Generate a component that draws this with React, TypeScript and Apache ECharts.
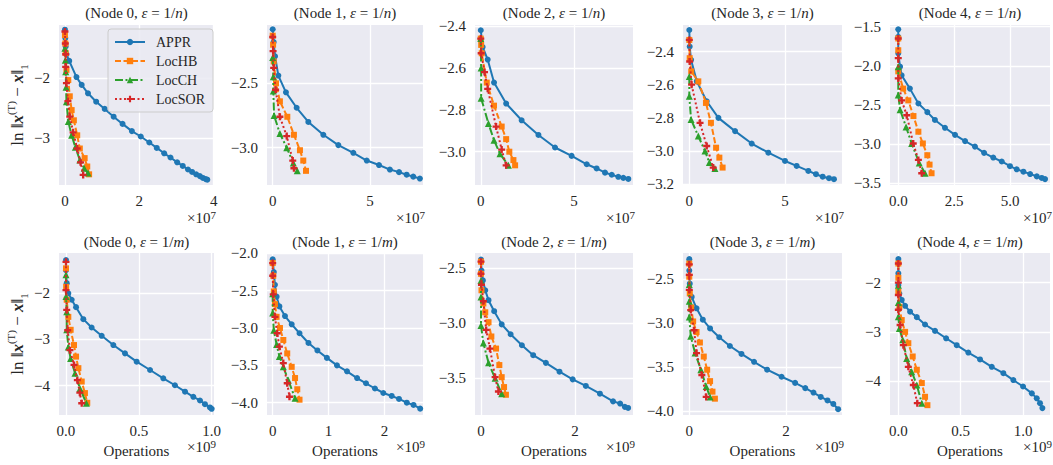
import React, { useEffect, useRef } from 'react';
import * as echarts from 'echarts';

const SERIES_NAMES = ['APPR', 'LocHB', 'LocCH', 'LocSOR'];
const NODE_IDS = [0, 1, 2, 3, 4, 0, 1, 2, 3, 4];
const EPS_LABELS = ['n', 'n', 'n', 'n', 'n', 'm', 'm', 'm', 'm', 'm'];
const X_EXPONENTS = [7, 7, 7, 7, 7, 9, 9, 9, 9, 9];

// x values in units of 10^exponent
const n0_appr = [[0,-1.19],[0.01,-1.33],[0.02,-1.47],[0.04,-1.6],[0.115,-1.71],[0.31,-1.98],[0.45,-2.11],[0.62,-2.25],[0.84,-2.39],[1.07,-2.51],[1.31,-2.64],[1.55,-2.76],[1.8,-2.88],[2.04,-2.97],[2.27,-3.07],[2.47,-3.16],[2.67,-3.25],[2.84,-3.32],[3.02,-3.4],[3.17,-3.46],[3.31,-3.52],[3.42,-3.56],[3.53,-3.6],[3.63,-3.63],[3.71,-3.66],[3.79,-3.68],[3.83,-3.69]];
const n0_hb = [[0,-1.28],[0.01,-1.42],[0.02,-1.58],[0.04,-1.86],[0.09,-2.03],[0.13,-2.3],[0.18,-2.53],[0.24,-2.7],[0.33,-2.95],[0.4,-3.17],[0.53,-3.33],[0.6,-3.47],[0.65,-3.6]];
const n0_ch = [[0,-1.5],[0.01,-1.7],[0.02,-1.89],[0.03,-2.15],[0.04,-2.39],[0.09,-2.72],[0.18,-2.95],[0.28,-3.15],[0.4,-3.36],[0.52,-3.5],[0.62,-3.58]];
const n0_sor = [[0,-1.22],[0.01,-1.42],[0.02,-1.6],[0.02,-1.81],[0.04,-2.08],[0.08,-2.38],[0.13,-2.64],[0.22,-2.9],[0.33,-3.17],[0.42,-3.4],[0.49,-3.61]];

const n1_appr = [[0,-2.08],[0.05,-2.18],[0.12,-2.29],[0.29,-2.44],[0.68,-2.57],[1.23,-2.69],[1.83,-2.8],[2.6,-2.9],[3.37,-2.98],[4.14,-3.04],[4.83,-3.1],[5.46,-3.135],[6.02,-3.17],[6.49,-3.19],[6.88,-3.21],[7.22,-3.225],[7.56,-3.24]];
const n1_hb = [[0,-2.13],[0.02,-2.2],[0.05,-2.33],[0.17,-2.5],[0.37,-2.64],[0.75,-2.76],[1.09,-2.9],[1.4,-3.02],[1.57,-3.1],[1.71,-3.18]];
const n1_ch = [[0,-2.3],[0.03,-2.45],[0.03,-2.56],[0.07,-2.75],[0.37,-2.89],[0.72,-3.0],[1.06,-3.12],[1.26,-3.18]];
const n1_sor = [[0,-2.14],[0.02,-2.25],[0.05,-2.38],[0.15,-2.55],[0.37,-2.76],[0.72,-2.91],[1.03,-3.1],[1.09,-3.16]];

const n2_appr = [[0,-2.42],[0.1,-2.5],[0.37,-2.56],[0.71,-2.67],[1.36,-2.77],[2.19,-2.85],[3.09,-2.92],[3.98,-2.98],[4.87,-3.02],[5.68,-3.06],[6.21,-3.08],[6.66,-3.1],[7.02,-3.11],[7.37,-3.12],[7.64,-3.125],[7.91,-3.13]];
const n2_hb = [[0,-2.46],[0.02,-2.49],[0.05,-2.53],[0.32,-2.67],[0.71,-2.78],[1.12,-2.88],[1.36,-2.94],[1.53,-3.0],[1.75,-3.04],[1.84,-3.065]];
const n2_ch = [[0,-2.46],[0.02,-2.6],[0.02,-2.745],[0.41,-2.865],[0.71,-2.945],[1.03,-3.01],[1.48,-3.065]];
const n2_sor = [[0,-2.46],[0.02,-2.53],[0.2,-2.62],[0.37,-2.7],[0.82,-2.88],[1.12,-2.99],[1.36,-3.065]];

const n3_appr = [[0,-2.27],[0.02,-2.37],[0.09,-2.45],[0.39,-2.58],[0.91,-2.7],[1.52,-2.8],[2.39,-2.88],[3.26,-2.955],[4.13,-3.01],[5.0,-3.06],[5.61,-3.09],[6.22,-3.12],[6.62,-3.14],[6.97,-3.155],[7.3,-3.164],[7.56,-3.17]];
const n3_hb = [[0,-2.33],[0.02,-2.44],[0.1,-2.52],[0.47,-2.58],[0.87,-2.71],[1.13,-2.83],[1.4,-2.98],[1.57,-3.04],[1.74,-3.1]];
const n3_ch = [[0,-2.55],[0,-2.67],[0.09,-2.81],[0.47,-2.91],[0.82,-3.0],[1.05,-3.07],[1.34,-3.105]];
const n3_sor = [[0,-2.33],[0.02,-2.46],[0.12,-2.6],[0.56,-2.83],[0.91,-2.97],[1.25,-3.1]];

const n4_appr = [[0,-1.533],[0,-1.63],[0,-1.84],[0.08,-2.01],[0.15,-2.12],[0.52,-2.29],[0.9,-2.48],[1.3,-2.59],[1.64,-2.69],[2.09,-2.79],[2.54,-2.88],[2.99,-2.96],[3.43,-3.03],[3.84,-3.11],[4.25,-3.17],[4.63,-3.22],[5.0,-3.28],[5.3,-3.32],[5.6,-3.35],[5.9,-3.38],[6.2,-3.41],[6.42,-3.43],[6.57,-3.445]];
const n4_hb = [[0,-1.65],[0,-1.8],[0,-2.07],[0.22,-2.29],[0.45,-2.44],[0.68,-2.64],[0.9,-2.84],[1.1,-2.99],[1.3,-3.14],[1.4,-3.26],[1.49,-3.37]];
const n4_ch = [[0,-2.01],[0,-2.37],[0.08,-2.56],[0.35,-2.78],[0.6,-2.99],[0.94,-3.24],[1.2,-3.37]];
const n4_sor = [[0,-1.65],[0,-1.9],[0,-2.16],[0.15,-2.44],[0.38,-2.63],[0.67,-2.99],[0.9,-3.2],[1.05,-3.37]];

const n5_appr = [[0,-1.28],[0,-1.5],[0.005,-1.78],[0.016,-2.0],[0.039,-2.14],[0.069,-2.3],[0.119,-2.56],[0.176,-2.74],[0.245,-2.92],[0.325,-3.12],[0.405,-3.3],[0.485,-3.48],[0.577,-3.66],[0.668,-3.84],[0.748,-3.99],[0.817,-4.13],[0.874,-4.24],[0.92,-4.32],[0.954,-4.4],[0.988,-4.47],[1.0,-4.5]];
const n5_hb = [[0,-1.46],[0.001,-1.86],[0.005,-2.14],[0.016,-2.51],[0.032,-2.79],[0.055,-3.12],[0.069,-3.37],[0.085,-3.62],[0.108,-3.91],[0.13,-4.16],[0.146,-4.37]];
const n5_ch = [[0,-1.6],[0,-2.07],[0.005,-2.4],[0.005,-2.79],[0.016,-3.16],[0.032,-3.41],[0.062,-3.73],[0.096,-4.06],[0.14,-4.38]];
const n5_sor = [[0,-1.32],[0,-1.93],[0.005,-2.36],[0.012,-2.8],[0.027,-3.23],[0.055,-3.55],[0.078,-3.88],[0.095,-4.15],[0.108,-4.38]];

const n6_appr = [[0,-2.08],[0.02,-2.25],[0.04,-2.42],[0.07,-2.58],[0.12,-2.71],[0.22,-2.84],[0.34,-2.95],[0.48,-3.07],[0.64,-3.2],[0.8,-3.3],[0.97,-3.4],[1.15,-3.5],[1.33,-3.58],[1.51,-3.67],[1.67,-3.74],[1.83,-3.81],[1.98,-3.87],[2.13,-3.91],[2.26,-3.95],[2.4,-4.0],[2.52,-4.03],[2.64,-4.08]];
const n6_hb = [[0,-2.13],[0.01,-2.3],[0.02,-2.51],[0.04,-2.68],[0.07,-2.85],[0.13,-3.0],[0.19,-3.16],[0.26,-3.34],[0.34,-3.52],[0.4,-3.67],[0.44,-3.82],[0.48,-3.96]];
const n6_ch = [[0,-2.54],[0,-2.8],[0.02,-3.03],[0.07,-3.22],[0.12,-3.38],[0.19,-3.52],[0.28,-3.7],[0.4,-3.94]];
const n6_sor = [[0,-2.13],[0,-2.3],[0.01,-2.55],[0.04,-2.85],[0.08,-3.07],[0.12,-3.25],[0.19,-3.47],[0.26,-3.74],[0.3,-3.92]];

const n7_appr = [[0,-2.42],[0.01,-2.52],[0.04,-2.61],[0.09,-2.7],[0.16,-2.79],[0.28,-2.89],[0.44,-3.01],[0.63,-3.1],[0.87,-3.2],[1.11,-3.29],[1.38,-3.36],[1.67,-3.44],[1.95,-3.51],[2.23,-3.57],[2.53,-3.64],[2.81,-3.71],[2.96,-3.73],[3.06,-3.76],[3.13,-3.77]];
const n7_hb = [[0,-2.44],[0,-2.55],[0.01,-2.7],[0.05,-2.82],[0.09,-2.9],[0.16,-2.99],[0.22,-3.12],[0.32,-3.23],[0.39,-3.38],[0.44,-3.49],[0.49,-3.58],[0.53,-3.65]];
const n7_ch = [[0,-2.61],[0,-2.76],[0,-3.02],[0.05,-3.18],[0.16,-3.36],[0.3,-3.5],[0.44,-3.64]];
const n7_sor = [[0,-2.44],[0,-2.55],[0.01,-2.65],[0.05,-2.8],[0.11,-3.06],[0.19,-3.23],[0.3,-3.49],[0.37,-3.62]];

const n8_appr = [[0,-2.27],[0,-2.4],[0.01,-2.55],[0.05,-2.7],[0.15,-2.83],[0.28,-2.96],[0.43,-3.06],[0.62,-3.16],[0.84,-3.26],[1.08,-3.35],[1.34,-3.44],[1.61,-3.53],[1.91,-3.61],[2.19,-3.68],[2.4,-3.74],[2.57,-3.79],[2.72,-3.84],[2.86,-3.88],[2.98,-3.92],[3.08,-3.98]];
const n8_hb = [[0,-2.32],[0,-2.47],[0.01,-2.66],[0.04,-2.82],[0.08,-2.98],[0.15,-3.1],[0.22,-3.22],[0.3,-3.38],[0.37,-3.53],[0.43,-3.66],[0.48,-3.78],[0.53,-3.86]];
const n8_ch = [[0,-2.56],[0,-2.75],[0,-2.93],[0.03,-3.15],[0.12,-3.34],[0.24,-3.53],[0.35,-3.72],[0.43,-3.84]];
const n8_sor = [[0,-2.33],[0,-2.45],[0,-2.62],[0.03,-2.85],[0.1,-3.08],[0.15,-3.34],[0.26,-3.59],[0.35,-3.84]];

const n9_appr = [[0,-1.52],[0,-1.81],[0,-2.05],[0.008,-2.22],[0.027,-2.35],[0.054,-2.47],[0.094,-2.59],[0.148,-2.7],[0.214,-2.85],[0.294,-2.98],[0.383,-3.13],[0.468,-3.27],[0.561,-3.42],[0.655,-3.56],[0.749,-3.71],[0.842,-3.84],[0.922,-3.98],[1.0,-4.11],[1.07,-4.25],[1.11,-4.35],[1.136,-4.45],[1.155,-4.55]];
const n9_hb = [[0,-1.61],[0,-1.9],[0,-2.18],[0.008,-2.49],[0.027,-2.76],[0.054,-3.0],[0.08,-3.23],[0.115,-3.5],[0.148,-3.77],[0.188,-4.04],[0.214,-4.32],[0.233,-4.49]];
const n9_ch = [[0,-2.05],[0,-2.4],[0,-2.69],[0.008,-2.93],[0.035,-3.16],[0.067,-3.54],[0.107,-3.81],[0.148,-4.08],[0.188,-4.45]];
const n9_sor = [[0,-1.61],[0,-2.0],[0,-2.25],[0,-2.55],[0.014,-2.86],[0.04,-3.27],[0.08,-3.71],[0.12,-4.08],[0.152,-4.45]];

const PANEL_DATA = [
  [n0_appr, n0_hb, n0_ch, n0_sor], [n1_appr, n1_hb, n1_ch, n1_sor], [n2_appr, n2_hb, n2_ch, n2_sor],
  [n3_appr, n3_hb, n3_ch, n3_sor], [n4_appr, n4_hb, n4_ch, n4_sor], [n5_appr, n5_hb, n5_ch, n5_sor],
  [n6_appr, n6_hb, n6_ch, n6_sor], [n7_appr, n7_hb, n7_ch, n7_sor], [n8_appr, n8_hb, n8_ch, n8_sor],
  [n9_appr, n9_hb, n9_ch, n9_sor],
];

const X_TICKS = [[0, 2, 4], [0, 5], [0, 5], [0, 5], [0, 2.5, 5], [0, 0.5, 1], [0, 1, 2], [0, 2], [0, 2], [0, 0.5, 1]];
const X_DEC = [0, 0, 0, 0, 1, 1, 0, 0, 0, 1];
const Y_TICKS = [
  [-3, -2], [-3, -2.5], [-3, -2.8, -2.6, -2.4], [-3.2, -3, -2.8, -2.6, -2.4], [-3.5, -3, -2.5, -2, -1.5],
  [-4, -3, -2], [-4, -3.5, -3, -2.5, -2], [-3.5, -3, -2.5], [-4, -3.5, -3, -2.5], [-4, -3, -2],
];
const Y_DEC = [0, 1, 1, 1, 1, 0, 1, 1, 1, 0];
const X_RANGE = [[-0.16, 4.01], [-0.293, 7.72], [-0.31, 8.16], [-0.33, 7.98], [-0.37, 6.79], [-0.048, 1.016], [-0.102, 2.69], [-0.128, 3.234], [-0.13, 3.16], [-0.067, 1.216]];
const Y_RANGE = [[-3.778, -1.112], [-3.29, -2.047], [-3.159, -2.395], [-3.205, -2.24], [-3.52, -1.478], [-4.634, -1.128], [-4.165, -1.995], [-3.834, -2.361], [-4.046, -2.2], [-4.69, -1.396]];

// layout (pixels)
const COL_LEFT = [59, 267, 475, 683, 890];
const COL_RIGHT = [214, 423, 633, 842, 1050];
const ROW_TOP = [25, 253];
const ROW_BOTTOM = [185, 415];

const COLORS = ['#1f77b4', '#ff7f0e', '#2ca02c', '#d62728'];
const SYMBOLS = ['circle', 'rect', 'triangle', 'path://M-1,-3L1,-3L1,-1L3,-1L3,1L1,1L1,3L-1,3L-1,1L-3,1L-3,-1L-1,-1Z'];
const SYMBOL_SIZES = [6, 6, 7, 7];
const DASHES: any[] = ['solid', [6, 2.5], [8, 2.5, 2, 2.5], [2, 2.5]];
const FONT = '"Liberation Serif", serif';
const TXT = '#262626';

const fmt = (v: number, d: number) => {
  const s = Math.abs(v) < 1e-9 ? (0).toFixed(d) : v.toFixed(d);
  return s.replace('-', '\u2212');
};

export default function App() {
  const ref = useRef<HTMLDivElement>(null);
  useEffect(() => {
    document.body.style.margin = '0';
    const chart = echarts.init(ref.current!, null, { renderer: 'svg' });
    const grids: any[] = [];
    const xAxes: any[] = [];
    const yAxes: any[] = [];
    const series: any[] = [];
    const graphics: any[] = [];
    for (let i = 0; i < 10; i++) {
      const r = i < 5 ? 0 : 1;
      const c = i % 5;
      const left = COL_LEFT[c];
      const right = COL_RIGHT[c];
      const top = ROW_TOP[r];
      const bottom = ROW_BOTTOM[r];
      grids.push({ left, top, width: right - left, height: bottom - top, show: true, backgroundColor: '#EAEAF2', borderWidth: 0 });
      xAxes.push({
        type: 'value', gridIndex: i, min: X_RANGE[i][0], max: X_RANGE[i][1],
        axisLine: { show: false },
        axisTick: { show: false, customValues: X_TICKS[i] },
        axisLabel: { customValues: X_TICKS[i], formatter: (v: number) => fmt(v, X_DEC[i]), color: TXT, fontFamily: FONT, fontSize: 15, margin: 8 },
        splitLine: { show: true, lineStyle: { color: '#ffffff', width: 1.3 } },
      });
      yAxes.push({
        type: 'value', gridIndex: i, min: Y_RANGE[i][0], max: Y_RANGE[i][1],
        axisLine: { show: false },
        axisTick: { show: false, customValues: Y_TICKS[i] },
        axisLabel: { customValues: Y_TICKS[i], formatter: (v: number) => fmt(v, Y_DEC[i]), color: TXT, fontFamily: FONT, fontSize: 15, margin: 9 },
        splitLine: { show: true, lineStyle: { color: '#ffffff', width: 1.3 } },
      });
      PANEL_DATA[i].forEach((d, k) => {
        series.push({
          type: 'line', name: SERIES_NAMES[k], xAxisIndex: i, yAxisIndex: i, data: d,
          symbol: SYMBOLS[k], symbolSize: SYMBOL_SIZES[k], showSymbol: true,
          lineStyle: { color: COLORS[k], width: 2, type: DASHES[k] },
          itemStyle: { color: COLORS[k] },
          z: 2 + k,
        });
      });
      const cx = (left + right) / 2;
      graphics.push({
        type: 'text', x: cx, y: r === 0 ? 13 : 242,
        style: {
          text: `{n|(Node ${NODE_IDS[i]}, }{i|\u03B5}{n| = 1/}{i|${EPS_LABELS[i]}}{n|)}`,
          align: 'center', verticalAlign: 'middle',
          rich: {
            n: { fontFamily: FONT, fontSize: 15, fill: TXT },
            i: { fontFamily: FONT, fontSize: 15, fontStyle: 'italic', fill: TXT },
          },
        },
      });
      graphics.push({
        type: 'text', x: right + 2, y: r === 0 ? 218 : 447,
        style: {
          text: `{n|\u00D710}{s|${X_EXPONENTS[i]}}`, align: 'right', verticalAlign: 'middle',
          rich: {
            n: { fontFamily: FONT, fontSize: 15, fill: TXT, lineHeight: 18 },
            s: { fontFamily: FONT, fontSize: 11, fill: TXT, verticalAlign: 'top', lineHeight: 18 },
          },
        },
      });
      if (r === 1) {
        graphics.push({
          type: 'text', x: cx, y: 451,
          style: { text: 'Operations', align: 'center', verticalAlign: 'middle', fontFamily: FONT, fontSize: 15, fill: TXT },
        });
      }
    }
    [105, 334].forEach((yc) => {
      graphics.push({
        type: 'text', x: 17, y: yc, rotation: Math.PI / 2,
        style: {
          text: '{n|ln \u2016}{b|x}{s|(T)}{n| \u2212 }{b|x}{n|\u2016}{u|1}',
          align: 'center', verticalAlign: 'middle',
          rich: {
            n: { fontFamily: FONT, fontSize: 17, fill: TXT, lineHeight: 24 },
            b: { fontFamily: FONT, fontSize: 17, fontWeight: 'bold', fontStyle: 'italic', fill: TXT, lineHeight: 24 },
            s: { fontFamily: FONT, fontSize: 11, fill: TXT, verticalAlign: 'top', lineHeight: 24 },
            u: { fontFamily: FONT, fontSize: 11, fill: TXT, verticalAlign: 'bottom', lineHeight: 24 },
          },
        },
      });
    });
    chart.setOption({
      animation: false,
      backgroundColor: '#ffffff',
      grid: grids,
      xAxis: xAxes,
      yAxis: yAxes,
      series,
      graphic: graphics,
      legend: {
        data: SERIES_NAMES, orient: 'vertical', left: 108, top: 29,
        itemWidth: 30, itemHeight: 8, itemGap: 5,
        padding: [6, 8, 6, 6],
        backgroundColor: 'rgba(234,234,242,0.85)', borderColor: '#cccccc', borderWidth: 1, borderRadius: 3,
        textStyle: { fontFamily: FONT, fontSize: 14, color: TXT, padding: [0, 0, 0, 6] },
        z: 10,
      },
    });
    return () => chart.dispose();
  }, []);
  return <div ref={ref} style={{ width: 1053, height: 465 }} />;
}
